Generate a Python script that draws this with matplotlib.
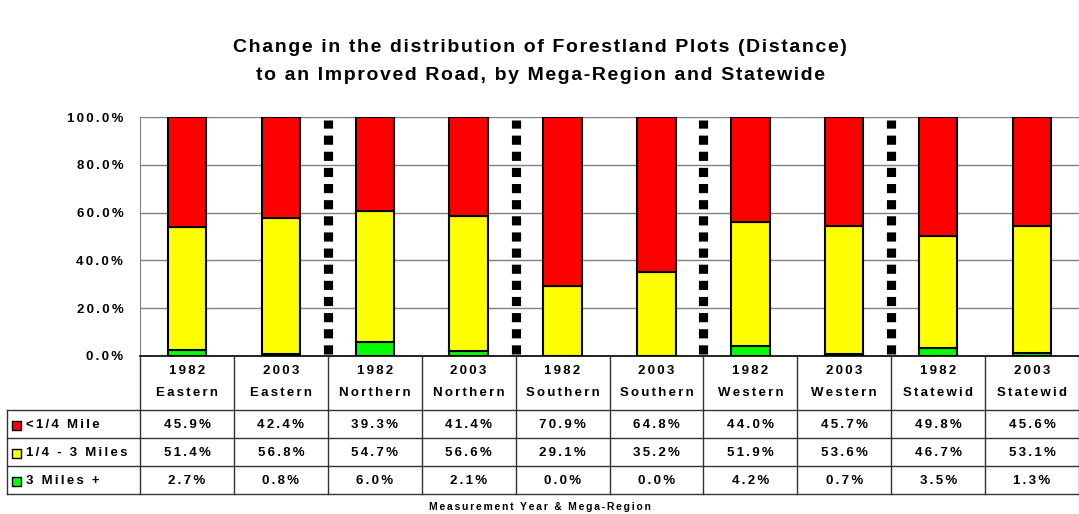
import numpy as np
import matplotlib
matplotlib.use("Agg")
import matplotlib.pyplot as plt
from matplotlib.patches import Rectangle

plt.rcParams["font.family"] = ["Liberation Sans", "DejaVu Sans"]
plt.rcParams["font.weight"] = "bold"

years = ["1982", "2003", "1982", "2003", "1982", "2003", "1982", "2003", "1982", "2003"]
regions = ["Eastern", "Eastern", "Northern", "Northern", "Southern", "Southern",
           "Western", "Western", "Statewid", "Statewid"]
near = [45.9, 42.4, 39.3, 41.4, 70.9, 64.8, 44.0, 45.7, 49.8, 45.6]
mid = [51.4, 56.8, 54.7, 56.6, 29.1, 35.2, 51.9, 53.6, 46.7, 53.1]
far = [2.7, 0.8, 6.0, 2.1, 0.0, 0.0, 4.2, 0.7, 3.5, 1.3]

series_names = ["<1/4 Mile", "1/4 - 3 Miles", "3 Miles +"]
colors = ["#FF0000", "#FFFF00", "#00FF00"]

W, H = 1079, 514


def spaced(s, n=2):
    # Excel-ish letter spacing with hair spaces
    return ("\u200a" * n).join(s)


fig = plt.figure(figsize=(W / 100, H / 100), dpi=100)
ax = fig.add_axes([140 / W, 1 - 356 / H, (W - 140) / W, (356 - 117) / H])

x = np.arange(len(years))
far_a = np.array(far)
mid_a = np.array(mid)
near_a = np.array(near)
bw = 0.41
ax.bar(x, far_a, bw, color=colors[2], edgecolor="black", linewidth=1.5, zorder=3)
ax.bar(x, mid_a, bw, bottom=far_a, color=colors[1], edgecolor="black", linewidth=1.5, zorder=3)
ax.bar(x, near_a, bw, bottom=far_a + mid_a, color=colors[0], edgecolor="black", linewidth=1.5, zorder=3)

# dotted separators between regions (square dots, ~16px pitch)
for b in [1.5, 3.5, 5.5, 7.5]:
    ax.vlines(b, 0.8, 98.8, colors="black", linewidth=6.6, linestyles=(0, (1, 0.76)), zorder=2)

ax.set_xlim(-0.5, len(years) - 0.5)
ax.set_ylim(0, 100)
ax.set_yticks(np.arange(0, 101, 20))
ax.set_yticklabels([spaced(f"{v:.1f}%") for v in np.arange(0, 101, 20)], fontsize=9.5, fontweight="bold")
ax.yaxis.grid(True, color="#808080", linewidth=1.0, zorder=0)
ax.set_axisbelow(True)
ax.set_xticks([])
ax.tick_params(axis="y", length=0, pad=12)
for s in ["top", "right"]:
    ax.spines[s].set_visible(False)
ax.spines["left"].set_color("#808080")
ax.spines["bottom"].set_color("black")
ax.spines["bottom"].set_linewidth(1.2)

# data table below the plot
left_px = 7
tax = fig.add_axes([left_px / W, 1 - 494 / H, (W - left_px) / W, (494 - 356) / H])
unit = (W - 140) / len(years)
tax.set_xlim(-0.5 - (140 - left_px) / unit, len(years) - 0.5)
tax.set_ylim(0, 138)
tax.axis("off")
x0 = -0.5 - (140 - left_px) / unit

lc = "#333333"
for b in np.arange(-0.5, len(years), 1.0):
    tax.plot([b, b], [0, 138], color=lc, linewidth=1.0, clip_on=False)
for yy in [0, 28, 56, 84]:
    tax.plot([x0, len(years) - 0.5], [yy, yy], color=lc, linewidth=1.0, clip_on=False)
tax.plot([x0, x0], [0, 84], color=lc, linewidth=1.0, clip_on=False)

for i in range(len(years)):
    tax.text(x[i], 123, spaced(years[i]), ha="center", va="center", fontsize=9.5, fontweight="bold")
    tax.text(x[i], 101, spaced(regions[i]), ha="center", va="center", fontsize=9.5, fontweight="bold")

rows = [near, mid, far]
row_y = [69, 41, 13]
for r, vals in enumerate(rows):
    for i, v in enumerate(vals):
        tax.text(x[i], row_y[r], spaced(f"{v:.1f}%"), ha="center", va="center",
                 fontsize=9.5, fontweight="bold")
    key_w = 8.5 / unit
    tax.add_patch(Rectangle((x0 + 5 / unit, row_y[r] - 4.5), key_w, 9, facecolor=colors[r],
                            edgecolor="black", linewidth=1.0, clip_on=False))
    tax.text(x0 + 19 / unit, row_y[r], spaced(series_names[r]), ha="left", va="center",
             fontsize=9.5, fontweight="bold")

fig.text(540 / W, 1 - 507 / H, spaced("Measurement Year & Mega-Region"), ha="center", va="center",
         fontsize=7.5, fontweight="bold")

fig.text(540 / W, 1 - 47 / H, spaced("Change in the distribution of Forestland Plots (Distance)", 1),
         ha="center", va="center", fontsize=14, fontweight="bold")
fig.text(540 / W, 1 - 75 / H, spaced("to an Improved Road, by Mega-Region and Statewide", 1),
         ha="center", va="center", fontsize=14, fontweight="bold")

fig.savefig("out.png", dpi=100)
